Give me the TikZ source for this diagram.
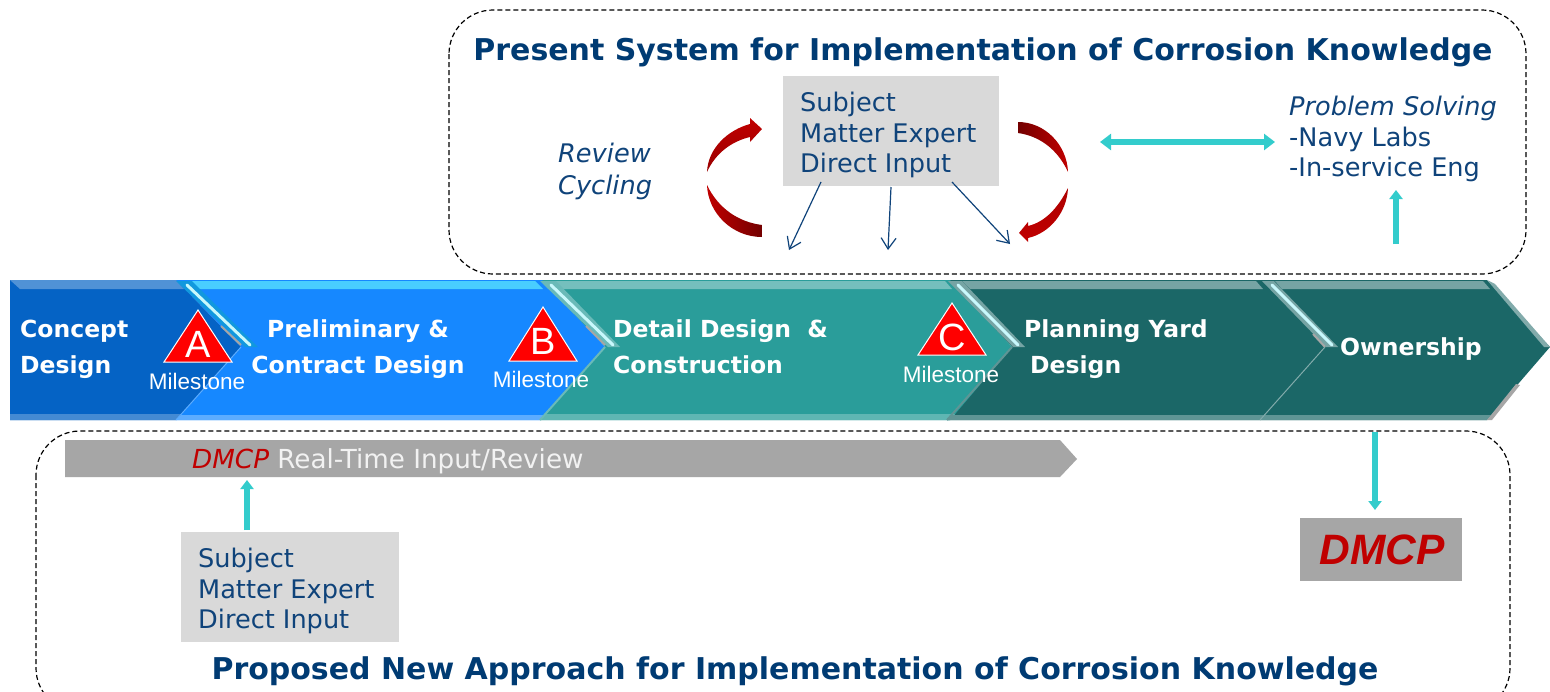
\documentclass[tikz,border=0pt]{standalone}
\usepackage{fontspec}
\setmainfont{DejaVu Sans}
\newfontfamily\arialf{Liberation Sans}
\usetikzlibrary{arrows.meta}
\definecolor{navy}{HTML}{0F437A}
\definecolor{titleblue}{HTML}{003B73}
\definecolor{tealarrow}{HTML}{33CCCC}
\definecolor{cConcept}{HTML}{0563C5}
\definecolor{cPrelim}{HTML}{1688FF}
\definecolor{cDetail}{HTML}{2A9D9A}
\definecolor{cPlan}{HTML}{1B6767}
\definecolor{dmcpred}{HTML}{C00000}
\definecolor{glint}{HTML}{C8F8FC}
\newcommand{\fsz}[2]{\fontsize{#1}{#2}\selectfont}
\tikzset{
  x=1pt,y=-1pt,
  dashbox/.style={draw=black,line width=1.2pt,dash pattern=on 5pt off 3pt,rounded corners=44pt},
  greybox/.style={fill=black!15,draw=none},
  bodytext/.style={text=navy,align=left,anchor=west,inner sep=0pt,font=\fsz{25.6}{30.5}},
  titletext/.style={text=titleblue,anchor=center,inner sep=0pt,font=\bfseries\fsz{30}{32}},
  chevlabel/.style={text=white,align=left,anchor=west,inner sep=0pt,font=\bfseries\fsz{23.5}{36}},
  mile/.style={text=white,anchor=center,inner sep=0pt,font=\arialf\fsz{22.5}{24}},
  tri/.style={fill=red,draw=white,line width=1pt,line join=miter},
  triletter/.style={text=white,anchor=center,inner sep=0pt,font=\arialf\fsz{38}{38}},
  navyarrow/.style={draw=navy,line width=1.2pt,-{Straight Barb[length=11pt,width=15pt,line width=1.2pt]}},
  tealone/.style={draw=tealarrow,line width=5.5pt,-{Triangle[length=9pt,width=13pt]}},
  tealtwo/.style={draw=tealarrow,line width=5.5pt,{Triangle[length=11pt,width=16pt]}-{Triangle[length=11pt,width=16pt]}},
  crescent/.style={draw=none},
  shine/.style={draw=glint,line width=3pt,line cap=round},
}
\begin{document}
\begin{tikzpicture}
\useasboundingbox (0,0) rectangle (1550,691);
\clip (0,0) rectangle (1550,691);
\fill[white] (0,0) rectangle (1550,691);

% dashed panels
\draw[dashbox] (449,10) rectangle (1526,274);
\draw[dashbox] (36,431) rectangle (1510,712);

% process chevrons, last to first
\fill[cPlan] (1260,280) -- (1487,280) -- (1550,347) -- (1487,420) -- (1260,420) -- (1325,347) -- cycle;
\fill[cPlan] (947,280) -- (1262,280) -- (1325,347) -- (1260,420) -- (947,420) -- (1012,347) -- cycle;
\fill[cDetail] (540,280) -- (950,280) -- (1012,347) -- (950,420) -- (540,420) -- (605,347) -- cycle;
\fill[cPrelim] (176,280) -- (542,280) -- (605,347) -- (540,420) -- (176,420) -- (241,347) -- cycle;
\fill[cConcept] (10,280) -- (176,280) -- (241,347) -- (176,420) -- (10,420) -- cycle;

% bevels: top and bottom bands
\fill[cConcept!70!white] (10,280) -- (176,280) -- (184,289) -- (20,289) -- cycle;
\fill[cConcept!75!white] (10,420) -- (176,420) -- (181,414) -- (10,414) -- cycle;
\fill[cPrelim!55!cyan!75!white] (190,281) -- (535,281) -- (543,289) -- (197,289) -- cycle;
\fill[cPrelim!70!white] (176,420) -- (540,420) -- (545,415) -- (181,415) -- cycle;
\fill[cDetail!65!white] (555,281) -- (945,281) -- (952,289) -- (562,289) -- cycle;
\fill[cDetail!75!white] (540,420) -- (950,420) -- (955,414) -- (545,414) -- cycle;
\fill[cPlan!60!white] (962,281) -- (1256,281) -- (1263,289) -- (970,289) -- cycle;
\fill[cPlan!70!white] (947,420) -- (1260,420) -- (1264,415) -- (951,415) -- cycle;
\fill[cPlan!60!white] (1275,281) -- (1483,281) -- (1490,289) -- (1282,289) -- cycle;
\fill[cPlan!70!white] (1260,420) -- (1487,420) -- (1491,415) -- (1264,415) -- cycle;

% bevels: notch highlights
\fill[cyan!60!cPrelim] (176,281) -- (192,281) -- (258,347) -- (245,347) -- cycle;
\draw[shine] (187,285) -- (250,345);
\draw[black!35,line width=2pt] (221,326) -- (241,345);
\draw[cPrelim!70!white,line width=1pt] (241,347) -- (176,420);
\fill[cDetail!70!white] (540,281) -- (556,281) -- (620,347) -- (608,347) -- cycle;
\draw[shine] (551,285) -- (613,345);
\draw[black!35,line width=2pt] (586,326) -- (605,345);
\draw[cDetail!70!white,line width=2pt] (605,347) -- (540,420);
\fill[cPlan!60!white] (948,281) -- (962,281) -- (1025,347) -- (1013,347) -- cycle;
\draw[shine] (958,285) -- (1018,345);
\draw[cPlan!70!white,line width=2pt] (1012,347) -- (947,420);
\fill[cPlan!60!white] (1262,281) -- (1274,281) -- (1338,347) -- (1326,347) -- cycle;
\draw[shine] (1272,285) -- (1332,345);
\draw[black!35,line width=2pt] (1313,334) -- (1325,347);
\draw[cPlan!55!white,line width=1pt] (1325,347) -- (1260,420);
\fill[cPlan!55!white] (1487,280) -- (1495,284) -- (1550,347) -- (1544,347) -- cycle;
\fill[black!35] (1487,420) -- (1492,420) -- (1520,385) -- (1516,384) -- cycle;

% chevron labels
\node[chevlabel] (concept) at (20,349) {Concept\\Design};
\node[chevlabel,align=center,anchor=center] (prelim) at (358,349) {Preliminary \&\\Contract Design};
\node[chevlabel] (detail) at (613,347) {Detail Design~~\&\\Construction};
\node[chevlabel] (plan) at (1024,349) {Planning Yard\\\hspace*{6pt}Design};
\node[chevlabel] (owner) at (1340,349) {Ownership};

% milestones
\draw[tri] (198,310) -- (232,362) -- (164,362) -- cycle;
\node[triletter] (mA) at (198,344) {A};
\node[mile] (mlA) at (197,381) {Milestone};
\draw[tri] (543,307) -- (577,361) -- (509,361) -- cycle;
\node[triletter] (mB) at (543,341) {B};
\node[mile] (mlB) at (541,379) {Milestone};
\draw[tri] (952,303) -- (986,355) -- (918,355) -- cycle;
\node[triletter] (mC) at (952,337) {C};
\node[mile] (mlC) at (951,374) {Milestone};

% upper panel
\node[titletext] (toptitle) at (983,52) {Present System for Implementation of Corrosion Knowledge};
\fill[greybox] (783,76) rectangle (999,186);
\node[bodytext] (sme) at (800,135) {Subject\\Matter Expert\\Direct Input};
\node[bodytext,font=\itshape\fsz{25.6}{32}] (review) at (558,171) {Review\\Cycling};
\node[bodytext] (solve) at (1289,139) {\textit{Problem Solving}\\-Navy Labs\\-In-service Eng};

\coordinate (a1s) at (821,182); \coordinate (a1e) at (789,250);
\coordinate (a2s) at (891,187); \coordinate (a2e) at (888,250);
\coordinate (a3s) at (952,182); \coordinate (a3e) at (1010,244);
\draw[navyarrow] (a1s) -- (a1e);
\draw[navyarrow] (a2s) -- (a2e);
\draw[navyarrow] (a3s) -- (a3e);

% red cycle arrows
\shade[crescent,bottom color=dmcpred!80!black,top color=dmcpred]
  (707,172) .. controls (708,148) and (728,130) .. (750,124) -- (750,118) -- (762,129) -- (750,142) -- (750,137)
  .. controls (733,141) and (716,152) .. (707,172) -- cycle;
\shade[crescent,left color=dmcpred,right color=black!40!dmcpred]
  (707,185) .. controls (708,213) and (732,237) .. (762,237) -- (762,225)
  .. controls (738,222) and (718,208) .. (707,185) -- cycle;
\shade[crescent,left color=black!40!dmcpred,right color=dmcpred]
  (1018,122) .. controls (1045,122) and (1067,145) .. (1068,172)
  .. controls (1058,150) and (1040,136) .. (1018,133) -- cycle;
\shade[crescent,top color=dmcpred!90!black,bottom color=dmcpred]
  (1068,188) .. controls (1067,212) and (1050,233) .. (1028,238) -- (1028,242) -- (1019,233) -- (1028,222) -- (1028,226)
  .. controls (1045,222) and (1058,208) .. (1068,188) -- cycle;

% teal connectors of upper panel
\coordinate (dblL) at (1100,142); \coordinate (dblR) at (1275,142);
\coordinate (upS) at (1396,244); \coordinate (upE) at (1396,190);
\draw[tealtwo] (dblL) -- (dblR);
\draw[tealone] (upS) -- (upE);

% lower panel
\fill[black!35] (65,440) -- (1060,440) -- (1077,459) -- (1060,477) -- (65,477) -- cycle;
\node[anchor=west,inner sep=0pt,font=\fsz{26.2}{28},text=black!5] (realtime) at (192,461) {\textcolor{dmcpred}{\textit{DMCP}} Real-Time Input/Review};
\fill[greybox] (181,532) rectangle (399,642);
\node[bodytext] (sme2) at (198,591) {Subject\\Matter Expert\\Direct Input};
\fill[black!35] (1300,518) rectangle (1462,581);
\node[anchor=center,inner sep=0pt,text=dmcpred,font=\arialf\bfseries\itshape\fsz{42.5}{42}] (dmcp) at (1382,550) {DMCP};
\node[titletext] (bottitle) at (795,671) {Proposed New Approach for Implementation of Corrosion Knowledge};

\coordinate (upS2) at (247,530); \coordinate (upE2) at (247,480);
\coordinate (dnS) at (1375,432); \coordinate (dnE) at (1375,510);
\draw[tealone] (upS2) -- (upE2);
\draw[tealone] (dnS) -- (dnE);
\end{tikzpicture}
\end{document}
